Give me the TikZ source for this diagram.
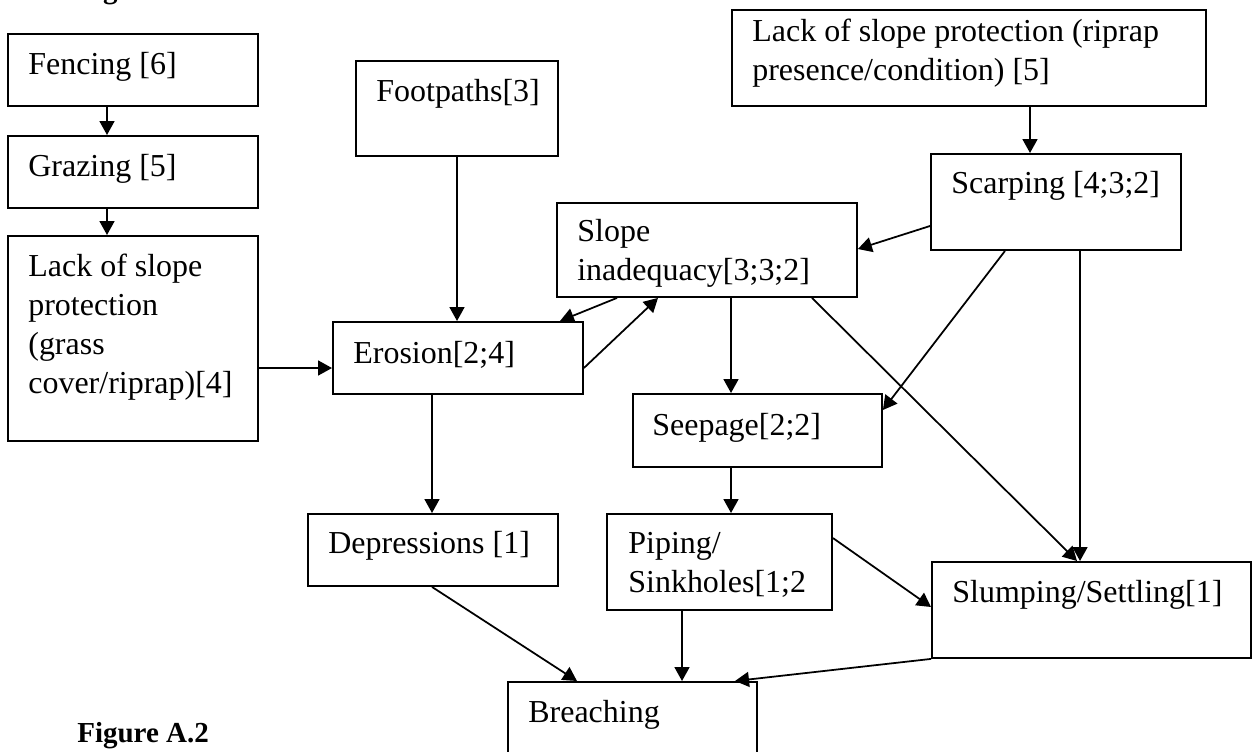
\documentclass[tikz,border=0pt]{standalone}
\usepackage{fontspec}
\setmainfont{Liberation Serif}
\usetikzlibrary{arrows.meta,calc}
\begin{document}
\begin{tikzpicture}[x=0.02cm,y=-0.02cm,
  box/.style={draw, line width=1.1pt, inner sep=0pt, anchor=north west},
  txt/.style={anchor=base west, inner sep=0pt, text width=12cm, align=flush left,
    font=\fontsize{18.2}{22.2}\selectfont},
  arr/.style={line width=1pt, -{Triangle[length=0.28cm,width=0.3cm]}},
  figcap/.style={anchor=base west, inner sep=0pt, font=\fontsize{16.5}{19}\selectfont\bfseries}]
\useasboundingbox (0,0) rectangle (1254,751);

% boxes
\node[box, minimum width=5cm, minimum height=1.44cm] (fencing) at (7,33) {};
\node[box, minimum width=5cm, minimum height=1.44cm] (grazing) at (7,135) {};
\node[box, minimum width=5cm, minimum height=4.1cm] (lackgrass) at (7,235) {};
\node[box, minimum width=4.04cm, minimum height=1.9cm] (footpaths) at (355,60) {};
\node[box, minimum width=9.48cm, minimum height=1.92cm] (riprap) at (731,9) {};
\node[box, minimum width=5cm, minimum height=1.92cm] (scarping) at (930,153) {};
\node[box, minimum width=6cm, minimum height=1.88cm] (slope) at (556,202) {};
\node[box, minimum width=5cm, minimum height=1.44cm] (erosion) at (332,321) {};
\node[box, minimum width=4.98cm, minimum height=1.46cm] (seepage) at (632,393) {};
\node[box, minimum width=5cm, minimum height=1.44cm] (depress) at (307,513) {};
\node[box, minimum width=4.5cm, minimum height=1.92cm] (piping) at (606,513) {};
\node[box, minimum width=6.38cm, minimum height=1.92cm] (slump) at (931,561) {};
\node[box, minimum width=4.98cm, minimum height=2.18cm] (breach) at (507,681) {};

% texts
\node[txt] (fencing-t) at ($(fencing.north west)+(21,41)$) {Fencing [6]};
\node[txt] (grazing-t) at ($(grazing.north west)+(21,41)$) {Grazing [5]};
\node[txt] (lackgrass-t) at ($(lackgrass.north west)+(21,41)$) {Lack of slope\\protection\\(grass\\cover/riprap)[4]};
\node[txt] (footpaths-t) at ($(footpaths.north west)+(21,41)$) {Footpaths[3]};
\node[txt] (riprap-t) at ($(riprap.north west)+(21,32)$) {Lack of slope protection (riprap\\presence/condition) [5]};
\node[txt] (scarping-t) at ($(scarping.north west)+(21,40)$) {Scarping [4;3;2]};
\node[txt] (slope-t) at ($(slope.north west)+(21,39)$) {Slope\\inadequacy[3;3;2]};
\node[txt] (erosion-t) at ($(erosion.north west)+(21,42)$) {Erosion[2;4]};
\node[txt] (seepage-t) at ($(seepage.north west)+(20,42)$) {Seepage[2;2]};
\node[txt] (depress-t) at ($(depress.north west)+(21,40)$) {Depressions [1]};
\node[txt] (piping-t) at ($(piping.north west)+(22,40)$) {Piping/\\Sinkholes[1;2};
\node[txt] (slump-t) at ($(slump.north west)+(21,41)$) {Slumping/Settling[1]};
\node[txt] (breach-t) at ($(breach.north west)+(21,41)$) {Breaching};

% captions
\node[figcap] (captop) at (77,-2) {Figure A.2};
\node[figcap] (capbot) at (77,742) {Figure A.2};

% connectors
\draw[arr] ($(fencing.south west)+(100,0)$) -- ($(grazing.north west)+(100,0)$);
\draw[arr] ($(grazing.south west)+(100,0)$) -- ($(lackgrass.north west)+(100,0)$);
\draw[arr] ($(lackgrass.north east)+(0,133)$) -- ($(erosion.north west)+(0,47)$);
\draw[arr] ($(footpaths.south west)+(102,0)$) -- ($(erosion.north west)+(125,0)$);
\draw[arr] ($(riprap.south west)+(299,0)$) -- ($(scarping.north west)+(100,0)$);
\draw[arr] ($(scarping.north west)+(0,73)$) -- ($(slope.north east)+(0,47)$);
\draw[arr] ($(slope.south west)+(61,0)$) -- ($(erosion.north west)+(228,0)$);
\draw[arr] ($(erosion.north east)+(0,47)$) -- ($(slope.south west)+(102,0)$);
\draw[arr] ($(slope.south west)+(175,0)$) -- ($(seepage.north west)+(99,0)$);
\draw[arr] ($(slope.south west)+(256,0)$) -- ($(slump.north west)+(146,0)$);
\draw[arr] ($(scarping.south west)+(75,0)$) -- ($(seepage.north east)+(0,17)$);
\draw[arr] ($(scarping.south west)+(150,0)$) -- ($(slump.north west)+(149,0)$);
\draw[arr] ($(erosion.south west)+(100,0)$) -- ($(depress.north west)+(125,0)$);
\draw[arr] ($(seepage.south west)+(99,0)$) -- ($(piping.north west)+(125,0)$);
\draw[arr] ($(depress.south west)+(125,0)$) -- ($(breach.north west)+(70,0)$);
\draw[arr] ($(piping.south west)+(76,0)$) -- ($(breach.north west)+(175,0)$);
\draw[arr] ($(piping.north east)+(0,25)$) -- ($(slump.north west)+(0,46)$);
\draw[arr] (slump.south west) -- ($(breach.north west)+(228,0)$);
\end{tikzpicture}
\end{document}
